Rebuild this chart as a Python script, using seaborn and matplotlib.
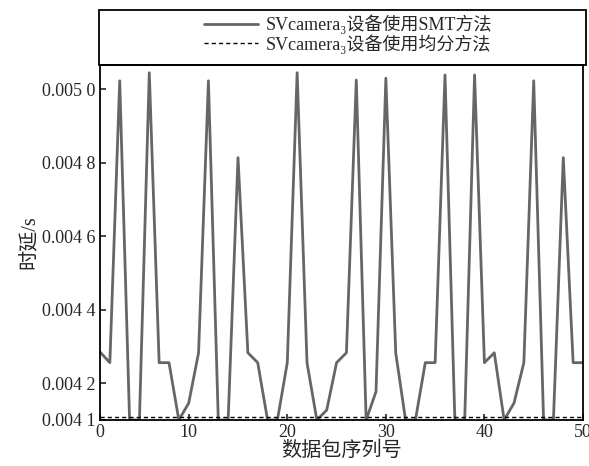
import numpy as np
import pandas as pd
import seaborn as sns
import matplotlib.pyplot as plt
from matplotlib.patches import Rectangle

# 数据包序号与时延
packet_ids = list(range(1, 51))
smt_delay = [0.004285, 0.004256, 0.005023, 0.004100, 0.004100,
             0.005045, 0.004256, 0.004256, 0.004100, 0.004146,
             0.004283, 0.005023, 0.004100, 0.004100, 0.004814,
             0.004283, 0.004256, 0.004100, 0.004100, 0.004256,
             0.005045, 0.004256, 0.004100, 0.004127, 0.004256,
             0.004283, 0.005025, 0.004100, 0.004177, 0.005030,
             0.004283, 0.004100, 0.004100, 0.004256, 0.004256,
             0.005039, 0.004100, 0.004100, 0.005039, 0.004256,
             0.004283, 0.004100, 0.004146, 0.004256, 0.005023,
             0.004100, 0.004100, 0.004814, 0.004256, 0.004256]
equal_delay = 0.004108

x_ticks = [1, 10, 20, 30, 40, 50]
x_tick_labels = ['0', '10', '20', '30', '40', '50']
y_ticks = [0.0041, 0.0042, 0.0044, 0.0046, 0.0048, 0.0050]
y_tick_labels = ['0.004 1', '0.004 2', '0.004 4', '0.004 6', '0.004 8', '0.005 0']

label_smt = 'SVcamera\u2083设备使用SMT方法'
label_equal = 'SVcamera\u2083设备使用均分方法'

sns.set_style('ticks')
plt.rcParams['font.family'] = ['Liberation Serif', 'Noto Sans CJK SC', 'DejaVu Serif']
plt.rcParams['axes.unicode_minus'] = False

df = pd.DataFrame({'序列号': packet_ids, '时延': smt_delay})

W, H = 589, 466
fig = plt.figure(figsize=(W / 100, H / 100), dpi=100)
ax = fig.add_axes([100 / W, 1 - 420 / H, 483 / W, 355 / H])

sns.lineplot(data=df, x='序列号', y='时延', ax=ax, color='#666666',
             linewidth=2.0, label=label_smt, legend=False)
ax.axhline(equal_delay, color='black', linewidth=1.0, linestyle=(0, (3, 2.2)),
           label=label_equal)

ax.set_xlim(1, 50)
ax.set_ylim(0.0041, 0.005066)
ax.set_xticks(x_ticks)
ax.set_xticklabels(x_tick_labels)
ax.set_yticks(y_ticks)
ax.set_yticklabels(y_tick_labels)
ax.tick_params(direction='in', length=4, width=1.2, labelsize=13,
               top=False, right=False, pad=3)
for sp in ax.spines.values():
    sp.set_linewidth(1.3)
    sp.set_color('black')

ax.set_xlabel('数据包序列号', fontsize=14.5, labelpad=0)
ax.set_ylabel('时延/s', fontsize=14.5, labelpad=2)

# 图例框
fig.add_artist(Rectangle((99 / W, 1 - 65 / H), 487 / W, 55 / H,
                         transform=fig.transFigure, fill=False,
                         edgecolor='black', linewidth=1.3))
handles, labels = ax.get_legend_handles_labels()
fig.legend(handles, labels, loc='center', bbox_to_anchor=(348 / W, 1 - 34 / H),
           frameon=False, fontsize=13, handlelength=3.0, labelspacing=0.0,
           handletextpad=0.4, borderpad=0)

fig.savefig('out.png', dpi=100)
